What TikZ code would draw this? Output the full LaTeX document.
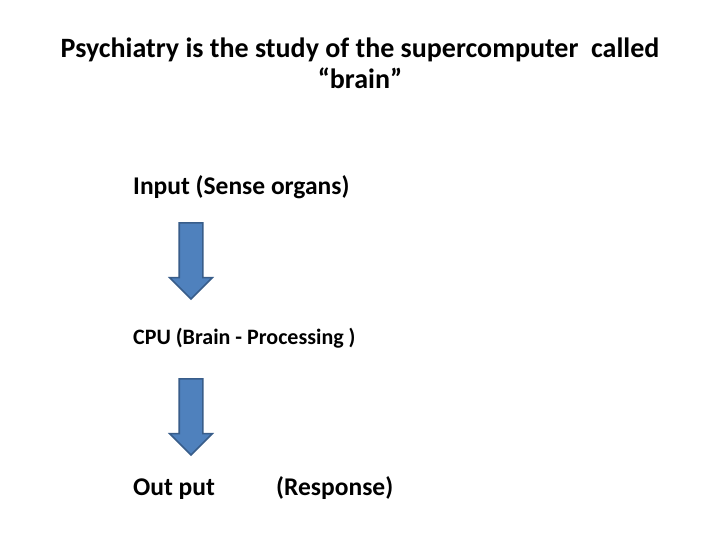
\documentclass[tikz,border=0pt]{standalone}
\usepackage{fontspec}
\setmainfont{Carlito}
\usetikzlibrary{positioning,shapes.arrows}
\definecolor{ArrowFill}{HTML}{4F81BD}
\definecolor{ArrowLine}{HTML}{385D8A}
\tikzset{
  title/.style={font=\fontsize{28}{31}\selectfont\bfseries,align=center,inner sep=0pt},
  step text/.style={font=\fontsize{25.5}{30}\selectfont\bfseries,anchor=base west,inner sep=0pt},
  small text/.style={font=\fontsize{22}{26}\selectfont\bfseries,anchor=base west,inner sep=0pt},
  downarrow/.style={single arrow,draw=ArrowLine,fill=ArrowFill,line width=1.6pt,
    shape border rotate=270,minimum height=76pt,inner sep=11pt,
    single arrow head extend=9.5pt,single arrow tip angle=90}
}
\begin{document}
\begin{tikzpicture}[x=1pt,y=1pt]
  \useasboundingbox[fill=white] (0,0) rectangle (720,-540);
  \node[title,anchor=base] (head) at (360,-89) {Psychiatry is the study of the supercomputer\ \ called\\``brain''};
  \node[step text] (input) at (133,-195) {Input (Sense organs)};
  \node[small text] (cpu) at (133,-344) {CPU (Brain - Processing )};
  \node[step text] (output) at (133,-495) {Out put};
  \node[step text] (response) at (276,-495) {(Response)};
  \node[downarrow] (down1) at (191,-255) {};
  \node[downarrow] (down2) at (191,-411) {};
\end{tikzpicture}
\end{document}
